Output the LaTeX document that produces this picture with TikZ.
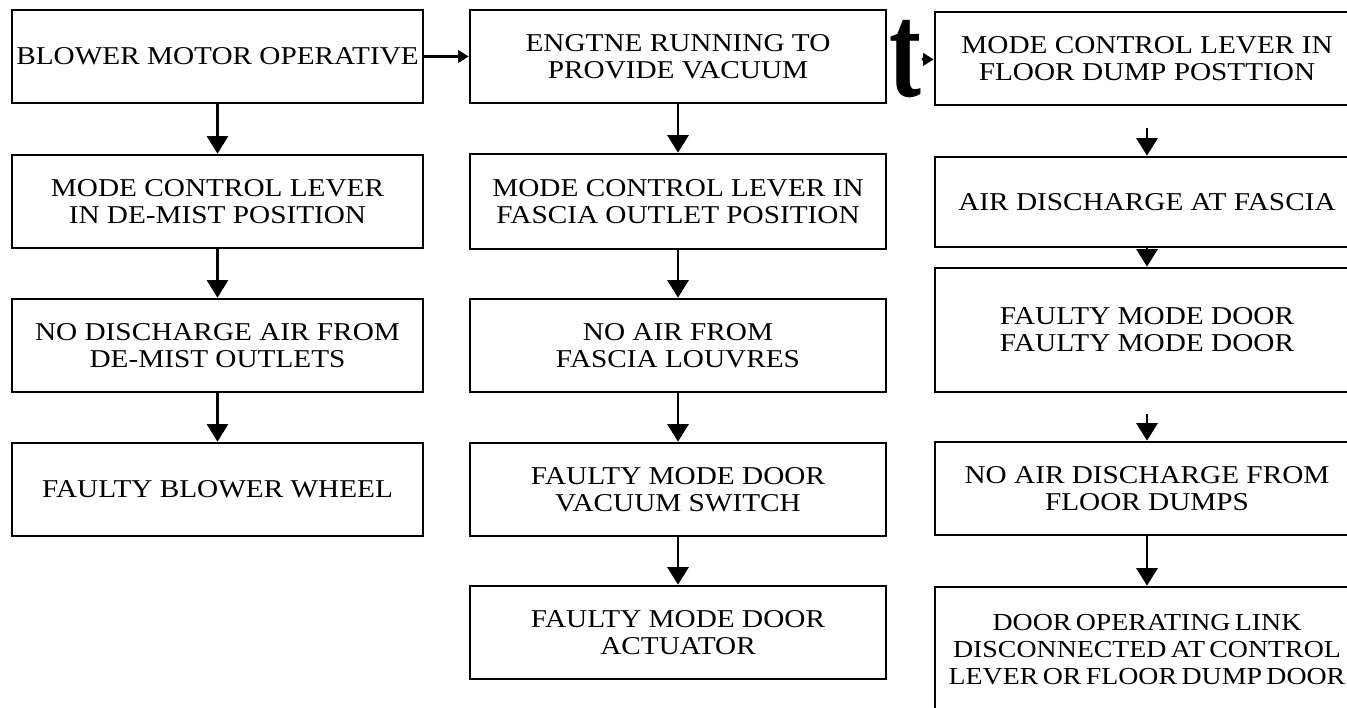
\documentclass[tikz,border=0pt]{standalone}
\usepackage{fontspec}
\setmainfont{Liberation Serif}[FakeStretch=1.14]
\usetikzlibrary{arrows.meta}
\newcommand\tightwords{\spaceskip=0.18em plus 0.05em\relax}
\tikzset{
	faultbox/.style={draw, line width=1.5pt, align=center, inner sep=0pt, font=\fontsize{14.6}{15.4}\selectfont},
	downlink/.style={line width=1.5pt, -{Triangle[width=12pt,length=10pt]}},
	sidelink/.style={line width=1.5pt, -{Triangle[width=7pt,length=6pt]}}
}

\begin{document}
\begin{tikzpicture}
		%%%%% START %%%%%
		\useasboundingbox (0, 0) rectangle (26.94, 14.14);
		\clip (0, 0) rectangle (26.94, 14.14);
		
		% left column
		\node[faultbox, minimum width=8.22cm, minimum height=1.86cm] (l1) at (4.35, 13.01) {BLOWER MOTOR OPERATIVE};
		\node[faultbox, minimum width=8.22cm, minimum height=1.86cm] (l2) at (4.35, 10.11) {MODE CONTROL LEVER\\IN DE-MIST POSITION};
		\node[faultbox, minimum width=8.22cm, minimum height=1.86cm] (l3) at (4.35, 7.23) {NO DISCHARGE AIR FROM\\DE-MIST OUTLETS};
		\node[faultbox, minimum width=8.22cm, minimum height=1.86cm] (l4) at (4.35, 4.35) {FAULTY BLOWER WHEEL};
		
		% middle column
		\node[faultbox, minimum width=8.32cm, minimum height=1.86cm] (m1) at (13.56, 13.01) {ENGTNE RUNNING TO\\PROVIDE VACUUM};
		\node[faultbox, minimum width=8.32cm, minimum height=1.9cm] (m2) at (13.56, 10.11) {MODE CONTROL LEVER IN\\FASCIA OUTLET POSITION};
		\node[faultbox, minimum width=8.32cm, minimum height=1.86cm] (m3) at (13.56, 7.23) {NO AIR FROM\\FASCIA LOUVRES};
		\node[faultbox, minimum width=8.32cm, minimum height=1.86cm] (m4) at (13.56, 4.35) {FAULTY MODE DOOR\\VACUUM SWITCH};
		\node[faultbox, minimum width=8.32cm, minimum height=1.86cm] (m5) at (13.56, 1.49) {FAULTY MODE DOOR\\ACTUATOR};
		
		% right column
		\node[faultbox, minimum width=8.48cm, minimum height=1.86cm] (r1) at (22.94, 12.97) {MODE CONTROL LEVER IN\\FLOOR DUMP POSTTION};
		\node[faultbox, minimum width=8.48cm, minimum height=1.8cm] (r2) at (22.94, 10.10) {AIR DISCHARGE AT FASCIA};
		\node[faultbox, minimum width=8.48cm, minimum height=2.48cm] (r3) at (22.94, 7.54) {FAULTY MODE DOOR\\FAULTY MODE DOOR};
		\node[faultbox, minimum width=8.48cm, minimum height=1.86cm] (r4) at (22.94, 4.37) {NO AIR DISCHARGE FROM\\FLOOR DUMPS};
		\node[faultbox, minimum width=8.48cm, minimum height=2.5cm, font=\fontsize{13.9}{15.4}\selectfont\tightwords] (r5) at (22.94, 1.15) {DOOR OPERATING LINK\\DISCONNECTED AT CONTROL\\LEVER OR FLOOR DUMP DOOR};
		
		\node[inner sep=0pt, font=\fontsize{77}{77}\selectfont\bfseries] (tmark) at (18.11, 12.95) {\scalebox{0.62}[1]{t}};
		
		% arrows
		\draw[sidelink] (l1) -- (m1);
		\draw[sidelink] (tmark) -- (r1);
		
		\draw[downlink] (l1) -- (l2);
		\draw[downlink] (l2) -- (l3);
		\draw[downlink] (l3) -- (l4);
		
		\draw[downlink] (m1) -- (m2);
		\draw[downlink] (m2) -- (m3);
		\draw[downlink] (m3) -- (m4);
		\draw[downlink] (m4) -- (m5);
		
		\draw[downlink, shorten <=0.44cm] (r1) -- (r2);
		\draw[downlink] (r2) -- (r3);
		\draw[downlink, shorten <=0.42cm] (r3) -- (r4);
		\draw[downlink] (r4) -- (r5);
		
		%%%%% END %%%%%
	\end{tikzpicture}
\end{document}
